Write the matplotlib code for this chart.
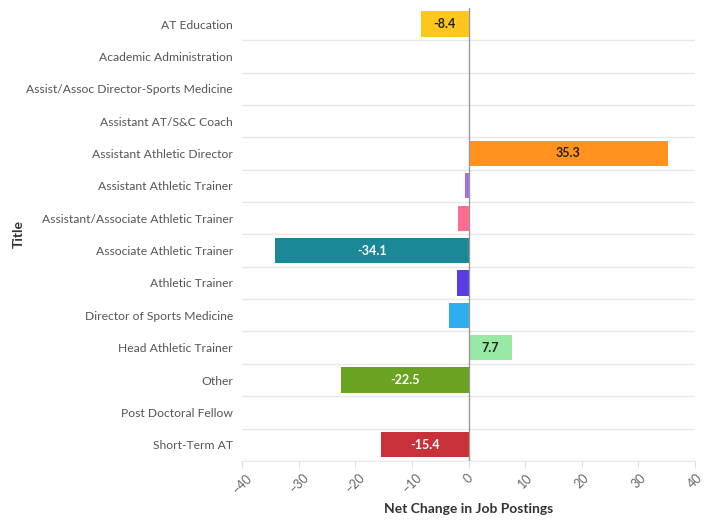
import matplotlib
matplotlib.use("Agg")
import matplotlib.pyplot as plt
import numpy as np

plt.rcParams['font.family'] = ['Lato', 'DejaVu Sans']

titles = ['AT Education', 'Academic Administration', 'Assist/Assoc Director-Sports Medicine',
          'Assistant AT/S&C Coach', 'Assistant Athletic Director', 'Assistant Athletic Trainer',
          'Assistant/Associate Athletic Trainer', 'Associate Athletic Trainer', 'Athletic Trainer',
          'Director of Sports Medicine', 'Head Athletic Trainer', 'Other',
          'Post Doctoral Fellow', 'Short-Term AT']
net_change = [-8.4, 0, 0, 0, 35.3, -0.6, -1.9, -34.1, -2.1, -3.5, 7.7, -22.5, 0, -15.4]
colors = ['#ffc61e', '#cccccc', '#cccccc', '#cccccc', '#ff931e', '#a66fe0', '#ff6e92',
          '#1b8898', '#5a3be6', '#2eaeee', '#98e9a4', '#6aa222', '#cccccc', '#c8313a']
shown_labels = {0: '#222222', 4: '#222222', 7: 'white', 10: '#222222', 11: 'white', 13: 'white'}

fig = plt.figure(figsize=(7.15, 5.22), dpi=100)
ax = fig.add_axes([0.3385, 0.117, 0.6335, 0.868])

y = np.arange(len(titles))
ax.barh(y, net_change, height=0.78, color=colors, zorder=3)

for i, c in shown_labels.items():
    ax.text(net_change[i] / 2, i, f'{net_change[i]:.1f}', ha='center', va='center',
            color=c, fontsize=9, fontweight='bold', zorder=4)

# row separators
for b in np.arange(0.5, len(titles), 1.0):
    ax.axhline(b, color='#e8e8e8', lw=1, zorder=1)
ax.axvline(0, color='#999999', lw=1, zorder=5)

ax.set_ylim(len(titles) - 0.5, -0.5)
ax.set_xlim(-40, 40)
ax.set_xticks(np.arange(-40, 41, 10))
ax.set_yticks(y)
ax.set_yticklabels(titles)
ax.tick_params(axis='y', length=0, pad=6.5, labelsize=8.7, labelcolor='#555555')
ax.tick_params(axis='x', length=5, color='#e0e0e0', labelsize=9, labelcolor='#666666', pad=3)
for lab in ax.get_xticklabels():
    lab.set_rotation(45)
    lab.set_ha('center')
    lab.set_va('top')

for s in ['top', 'right', 'left']:
    ax.spines[s].set_visible(False)
ax.spines['bottom'].set_color('#e8e8e8')

ax.set_xlabel('Net Change in Job Postings', fontsize=10, fontweight='bold', color='#333333')
ax.xaxis.set_label_coords(0.5, -0.092)
ax.set_ylabel('Title', fontsize=10, fontweight='bold', color='#333333')
ax.yaxis.set_label_coords(-0.48, 0.5)

fig.savefig('out.png', dpi=100)
